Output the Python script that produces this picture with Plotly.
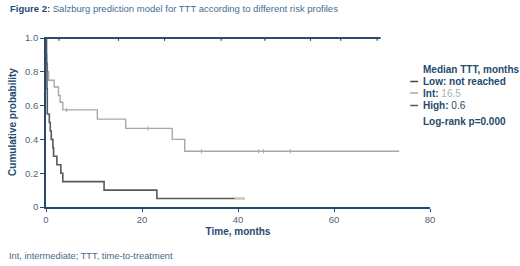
import plotly.graph_objects as go

# ---- data ----
low_t = [0, 69.7]
low_s = [1.0, 1.0]
low_cens = [2.7, 15.1, 24.7, 36.5, 45.6, 55.1, 61.4, 69.0]

int_t = [0, 0.1, 0.2, 0.3, 0.55, 1.7, 2.6, 2.95, 3.5, 10.7, 16.6, 26.3, 28.9, 73.6]
int_s = [1.0, 0.9, 0.85, 0.8, 0.75, 0.71, 0.66, 0.62, 0.575, 0.52, 0.465, 0.40, 0.33, 0.33]
int_cens = [4.3, 21.2, 32.4, 44.3, 45.3, 50.9]

high_t = [0, 0.1, 0.2, 0.27, 0.69, 0.89, 1.1, 1.44, 1.58, 2.27, 3.1, 3.5, 12.1, 23.1, 41.4]
high_s = [1.0, 0.85, 0.7, 0.55, 0.5, 0.45, 0.40, 0.35, 0.30, 0.25, 0.20, 0.15, 0.10, 0.05, 0.05]
high_tail_t = [39.3, 41.4]
high_tail_s = [0.05, 0.05]

x_ticks = [0, 20, 40, 60, 80]
y_ticks = [0, 0.2, 0.4, 0.6, 0.8, 1.0]
y_ticklabels = ["0", "0.2", "0.4", "0.6", "0.8", "1.0"]

NAVY = "#264a6e"
LOWC = "#2c4d6c"
INTC = "#a8a8a8"
HIGHC = "#555a5e"
TICKC = "#4f6479"
FONT = "Liberation Sans, Arial, sans-serif"


def step_at(ts, ss, t):
    v = ss[0]
    for ti, si in zip(ts, ss):
        if ti <= t:
            v = si
    return v


fig = go.Figure()
fig.add_trace(go.Scatter(x=int_t, y=int_s, mode="lines", line=dict(color=INTC, width=1.4, shape="hv"),
                         hoverinfo="skip"))
fig.add_trace(go.Scatter(x=int_cens, y=[step_at(int_t, int_s, t) for t in int_cens], mode="markers",
                         marker=dict(symbol="line-ns", size=3, line=dict(color=INTC, width=1)), hoverinfo="skip"))
fig.add_trace(go.Scatter(x=high_t, y=high_s, mode="lines", line=dict(color=HIGHC, width=1.6, shape="hv"),
                         hoverinfo="skip"))
fig.add_trace(go.Scatter(x=high_tail_t, y=high_tail_s, mode="lines", line=dict(color="#cfcb93", width=1.3),
                         hoverinfo="skip"))
fig.add_trace(go.Scatter(x=low_t, y=low_s, mode="lines", line=dict(color=LOWC, width=2, shape="hv"),
                         hoverinfo="skip"))
fig.add_trace(go.Scatter(x=low_cens, y=[1.0] * len(low_cens), mode="markers",
                         marker=dict(symbol="line-ns", size=4, line=dict(color=LOWC, width=1.2)), hoverinfo="skip"))

ML, MR, MT, MB = 42, 90, 37, 59
PW, PH = 520 - ML - MR, 266 - MT - MB


def px(p):
    return (p - ML) / PW


def py(p):
    return (266 - MB - p) / PH


anns = [
    dict(x=px(4), y=py(8.5), xanchor="left", yanchor="middle",
         text="<b>Figure 2:</b> <span style='color:#3f6d94'>Salzburg prediction model for TTT according to different risk profiles</span>",
         font=dict(size=9.5, color="#1f4a76")),
    dict(x=px(3), y=py(256), xanchor="left", yanchor="middle",
         text="Int, intermediate; TTT, time-to-treatment", font=dict(size=9.3, color="#4d6882")),
    dict(x=px(421), y=py(69), xanchor="left", yanchor="middle",
         text="<b>Median TTT, months</b>", font=dict(size=10, color=NAVY)),
    dict(x=px(421), y=py(81.5), xanchor="left", yanchor="middle",
         text="<b>Low: not reached</b>", font=dict(size=10, color=NAVY)),
    dict(x=px(421), y=py(93), xanchor="left", yanchor="middle",
         text="<b>Int: </b><span style='color:#b0b0b0'>16.5</span>", font=dict(size=10, color=NAVY)),
    dict(x=px(421), y=py(105.5), xanchor="left", yanchor="middle",
         text="<b>High: </b>0.6", font=dict(size=10, color=NAVY)),
    dict(x=px(421), y=py(121), xanchor="left", yanchor="middle",
         text="<b>Log-rank p=0.000</b>", font=dict(size=10, color=NAVY)),
]
for a in anns:
    a.update(xref="paper", yref="paper", showarrow=False)

shapes = []
for yy, c in [(81.5, LOWC), (93, INTC), (105.5, HIGHC)]:
    shapes.append(dict(type="line", xref="paper", yref="paper", x0=px(410), x1=px(418), y0=py(yy), y1=py(yy),
                       line=dict(color=c, width=1.5)))

fig.update_layout(
    width=520, height=266,
    margin=dict(l=ML, r=MR, t=MT, b=MB),
    paper_bgcolor="white", plot_bgcolor="white",
    showlegend=False,
    font=dict(family=FONT, size=9.5, color=TICKC),
    annotations=anns, shapes=shapes,
    xaxis=dict(range=[0, 80], tickvals=x_ticks, ticks="outside", ticklen=3, tickwidth=1.2, tickcolor=NAVY,
               showline=True, linecolor=NAVY, linewidth=1.8, showgrid=False, zeroline=False,
               tickfont=dict(size=9.5, color=TICKC),
               title=dict(text="<b>Time, months</b>", font=dict(size=10, color=NAVY), standoff=4)),
    yaxis=dict(range=[0, 1.006], tickvals=y_ticks, ticktext=y_ticklabels, ticks="outside", ticklen=4,
               tickwidth=1.2, tickcolor=NAVY, showline=True, linecolor=NAVY, linewidth=1.8, showgrid=False,
               zeroline=False, tickfont=dict(size=9.5, color=TICKC),
               title=dict(text="<b>Cumulative probability</b>", font=dict(size=10, color=NAVY), standoff=6)),
)

fig.write_html("out.html", config={"displayModeBar": False},
               post_script="document.body.style.margin='0';document.body.style.overflow='hidden';")
